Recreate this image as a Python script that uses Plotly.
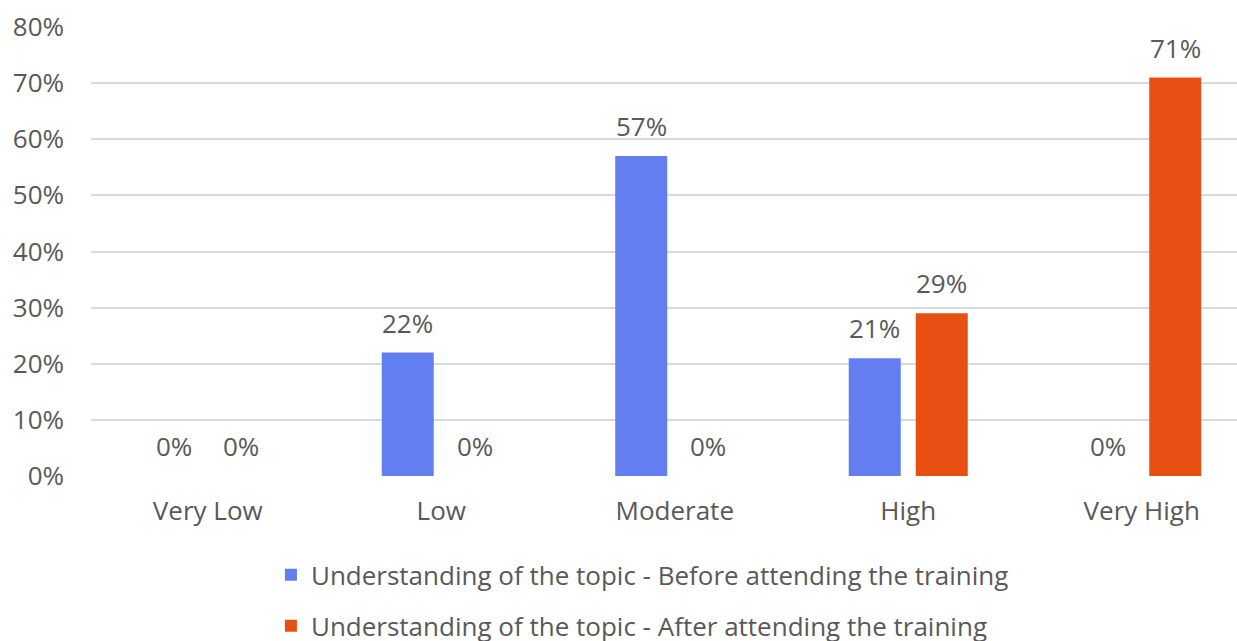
import plotly.graph_objects as go

categories = ["Very Low", "Low", "Moderate", "High", "Very High"]
before = [0.00, 0.22, 0.57, 0.21, 0.00]
after = [0.00, 0.00, 0.00, 0.29, 0.71]
series_names = [
    "Understanding of the topic - Before attending the training",
    "Understanding of the topic - After attending the training",
]
y_ticks = [0, 0.1, 0.2, 0.3, 0.4, 0.5, 0.6, 0.7, 0.8]
y_ticktext = ["0%", "10%", "20%", "30%", "40%", "50%", "60%", "70%", "80%"]

BLUE = "#637ef0"
ORANGE = "#e84f12"
TEXT = "#595959"
FONT = "Open Sans"
FS = 26
BARGAP = 0.426
GROUPGAP = 0.224

fig = go.Figure()
for name, vals, col, grp in [(series_names[0], before, BLUE, "a"), (series_names[1], after, ORANGE, "b")]:
    fig.add_trace(go.Bar(
        x=categories, y=vals, name=name, marker_color=col,
        marker_line_width=0, legendgroup=grp, hoverinfo="skip",
    ))

# data labels
off = (1 - BARGAP) / 4
for i, cat in enumerate(categories):
    for vals, sgn in [(before, -1), (after, 1)]:
        fig.add_annotation(
            x=i + sgn * off, y=vals[i], xref="x", yref="y",
            text=f"{round(vals[i]*100)}%", showarrow=False,
            yanchor="middle", yshift=30,
            font=dict(family=FONT, size=FS, color=TEXT),
        )

fig.update_layout(
    width=1237, height=641,
    margin=dict(l=91, r=0, t=27, b=165, autoexpand=False),
    paper_bgcolor="white", plot_bgcolor="white",
    barmode="group", bargap=BARGAP, bargroupgap=GROUPGAP,
    font=dict(family=FONT, size=FS, color=TEXT),
    showlegend=True,
    legend=dict(
        orientation="v", x=0.157, xanchor="left", y=-0.168, yanchor="top",
        tracegroupgap=14, font=dict(family=FONT, size=FS, color=TEXT),
        bgcolor="rgba(0,0,0,0)",
    ),
    xaxis=dict(
        type="category", range=[-0.5, 4.408], showgrid=False, zeroline=False,
        showline=False, ticks="", ticklabelstandoff=17,
        tickfont=dict(family=FONT, size=FS, color=TEXT),
    ),
    yaxis=dict(
        range=[0, 0.8], tickvals=y_ticks, ticktext=y_ticktext,
        showgrid=True, gridcolor="#dadada", gridwidth=2,
        zeroline=False, showline=False, ticks="", ticklabelstandoff=26,
        tickfont=dict(family=FONT, size=FS, color=TEXT),
    ),
)

fig.write_html("out.html")
